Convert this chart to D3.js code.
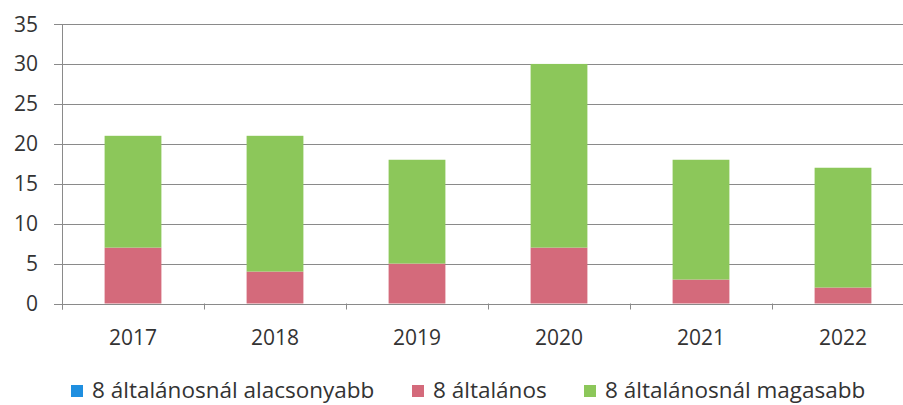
<!DOCTYPE html>
<html><head><meta charset="utf-8">
<script src="https://cdn.jsdelivr.net/npm/d3@7"></script>
<style>
html,body{margin:0;padding:0;background:#fff;}
text{font-family:"Open Sans",Lato,sans-serif;fill:#333;}
</style></head>
<body><svg id="c" width="903" height="405"></svg>
<script>
const categories = ["2017","2018","2019","2020","2021","2022"];
const seriesNames = ["8 általánosnál alacsonyabb","8 általános","8 általánosnál magasabb"];
const lowerValues = [0,0,0,0,0,0];
const elementaryValues = [7,4,5,7,3,2];
const higherValues = [14,17,13,23,15,15];
const yTicks = [0,5,10,15,20,25,30,35];
const colors = ["#1f8fe0","#d46a7b","#8cc75a"];

(function(){
const svg = d3.select("#c");
const pLeft = 62, pTop = 24, pBottom = 303.5, pRight = 914;
const x = d3.scaleBand().domain(categories).range([pLeft,pRight]).paddingInner(0.6).paddingOuter(0.3);
const y = d3.scaleLinear().domain([0,35]).range([pBottom,pTop]);

const rows = categories.map((c,i)=>({cat:c, s0:lowerValues[i], s1:elementaryValues[i], s2:higherValues[i]}));
const stack = d3.stack().keys(["s0","s1","s2"])(rows);

svg.append("g").selectAll("line").data(yTicks).join("line")
  .attr("x1", pLeft-8).attr("x2", 903)
  .attr("y1", d=>Math.round(y(d))+0.5).attr("y2", d=>Math.round(y(d))+0.5)
  .attr("stroke","#8a8a8a").attr("stroke-width",1);

svg.append("line").attr("x1",pLeft+0.5).attr("x2",pLeft+0.5)
  .attr("y1",pTop).attr("y2",pBottom+6).attr("stroke","#8a8a8a");

const step = x.step();
const bounds = categories.map((c,i)=> pLeft + i*step).concat([pLeft+categories.length*step]);
svg.append("g").selectAll("line").data(bounds).join("line")
  .attr("x1", d=>Math.round(d)+0.5).attr("x2", d=>Math.round(d)+0.5)
  .attr("y1", pBottom).attr("y2", pBottom+6).attr("stroke","#8a8a8a");

svg.append("g").selectAll("g").data(stack).join("g")
  .attr("fill",(d,i)=>colors[i])
  .selectAll("rect").data(d=>d).join("rect")
  .attr("x", d=>x(d.data.cat))
  .attr("width", x.bandwidth())
  .attr("y", d=>y(d[1]))
  .attr("height", d=>y(d[0])-y(d[1]));

svg.append("g").selectAll("text").data(yTicks).join("text")
  .attr("x", 38).attr("y", d=>y(d)).attr("dy","0.36em")
  .attr("text-anchor","end").attr("font-size",21).text(d=>d);

svg.append("g").selectAll("text").data(categories).join("text")
  .attr("x", d=>x(d)+x.bandwidth()/2).attr("y", 345)
  .attr("text-anchor","middle").attr("font-size",21).text(d=>d);

const legendX = [71, 412, 584];
const lg = svg.append("g").selectAll("g").data(seriesNames).join("g")
  .attr("transform",(d,i)=>`translate(${legendX[i]},390)`);
lg.append("rect").attr("x",0).attr("y",-5).attr("width",12).attr("height",12)
  .attr("fill",(d,i)=>colors[i]);
lg.append("text").attr("x",21).attr("y",0).attr("dy","0.36em")
  .attr("font-size",22.5).text(d=>d);
})();
</script></body></html>
